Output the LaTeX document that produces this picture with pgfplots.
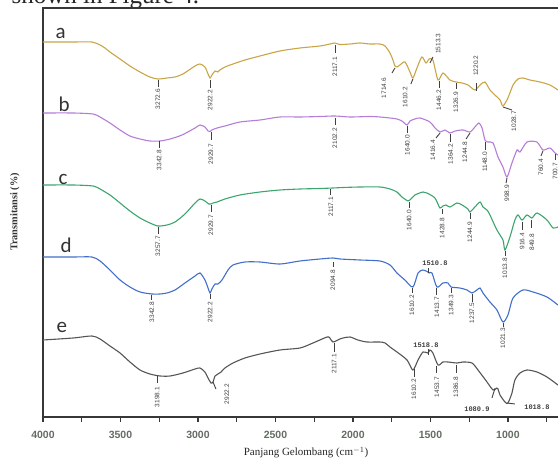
\documentclass[border=0pt]{standalone}
\usepackage{fontspec}
\setmainfont{Liberation Serif}
\newfontfamily\carl{Carlito}
\newfontfamily\lsans{Liberation Sans}
\newfontfamily\lmono{Liberation Mono}
\usepackage{pgfplots}
\pgfplotsset{compat=1.18}
\definecolor{ca}{RGB}{200,165,70}
\definecolor{cb}{RGB}{180,125,215}
\definecolor{cc}{RGB}{60,165,110}
\definecolor{cd}{RGB}{65,110,200}
\definecolor{ce}{RGB}{85,85,85}
\definecolor{frm}{RGB}{55,55,55}
\definecolor{tl}{RGB}{100,108,100}
\tikzset{tk/.style={draw=black!75, line width=0.9pt},
 lb/.style={font=\lsans\fontsize{6.5}{7}\selectfont, text=black!75, inner sep=0pt},
 hb/.style={font=\lmono\bfseries\fontsize{7}{8}\selectfont, text=black!75, inner sep=0pt},
 cv/.style={line width=1.1pt, smooth, tension=0.45}}
% vertical tick + text below
\newcommand{\vlab}[5]{\draw[tk] (axis cs:#1,#2) -- (axis cs:#1,#3); \node[lb,rotate=90,anchor=east] at (axis cs:#1,#4) {#5};}
% vertical tick + text above
\newcommand{\ulab}[5]{\draw[tk] (axis cs:#1,#2) -- (axis cs:#1,#3); \node[lb,rotate=90,anchor=west] at (axis cs:#1,#4) {#5};}
% slanted tick + text below
\newcommand{\slab}[7]{\draw[tk] (axis cs:#1,#2) -- (axis cs:#3,#4); \node[lb,rotate=90,anchor=east] at (axis cs:#5,#6) {#7};}
% slanted tick + text above
\newcommand{\sulab}[7]{\draw[tk] (axis cs:#1,#2) -- (axis cs:#3,#4); \node[lb,rotate=90,anchor=west] at (axis cs:#5,#6) {#7};}
\begin{document}
\begin{tikzpicture}
\node[anchor=base west, font=\fontsize{25}{27}\selectfont, text=black!85] at (8pt,-4pt) {shown in Figure 4.};
\begin{axis}[
 at={(301.5pt,-212.5pt)}, anchor=center,
 scale only axis, width=517pt, height=409pt,
 xmin=664, xmax=4000, x dir=reverse, ymin=0, ymax=409,
 axis line style={draw=frm, line width=1.6pt},
 xtick={1000,1500,2000,2500,3000,3500,4000},
 minor xtick={750,1250,1750,2250,2750,3250,3750},
 xtick pos=left, tick align=outside,
 major tick length=5pt, minor tick length=5pt,
 tick style={draw=frm, line width=1.2pt},
 ytick=\empty,
 /pgf/number format/1000 sep={},
 /pgf/number format/assume math mode=true,
 xticklabel style={font=\lsans\bfseries\fontsize{10.5}{12}\selectfont, text=tl, yshift=-6pt},
 clip=false,
]
% a
\addplot[cv, ca] coordinates {
(4000,375)(3806,375)(3684,375)(3632,372)(3600,369)(3568,365)(3503,358)(3439,351)(3374,345)(3310,340)(3258,338)(3200,339)(3148,340)(3097,343)(3019,351)(2987,353)(2955,350)(2935,343)(2922,339)(2910,342)(2890,346)(2871,345)(2858,347)(2826,350)(2774,353)(2697,357)(2600,361)(2471,366)(2342,369)(2213,371)(2148,373)(2116,374)(2084,372.5)(2019,373)(1955,374)(1890,373)(1826,373)(1793,371)(1761,364)(1742,357)(1729,351)(1716,350)(1697,352)(1664,355)(1632,345)(1613,339)(1587,349)(1555,360)(1529,354)(1509,358)(1484,357)(1451,337)(1419,344)(1374,337)(1335,335)(1296,334)(1258,332)(1213,327)(1180,332)(1148,335)(1116,327)(1084,322)(1051,317)(1032,311)(1000,319)(967,332)(935,338)(903,339)(858,337)(793,335)(729,332)(677,327)(664,326)};
% b
\addplot[cv, cb] coordinates {
(4000,304)(3806,304)(3677,303)(3632,300)(3568,294)(3503,287)(3439,281)(3374,278)(3310,276)(3245,276)(3180,278)(3103,282)(3019,289)(2987,292)(2955,290)(2935,286)(2922,285.5)(2910,287)(2877,289)(2826,291)(2729,295)(2600,297)(2471,300)(2342,300)(2213,300.5)(2116,301)(2019,300)(1890,300.5)(1826,300)(1761,299)(1716,298)(1684,296)(1651,292)(1632,296)(1600,298)(1567,299)(1503,295)(1470,289)(1438,285)(1406,287)(1374,284)(1341,286)(1290,287)(1245,285)(1213,290)(1187,294)(1167,289)(1148,277)(1129,275)(1096,274)(1064,260)(1032,250)(1006,240)(974,254)(941,267)(922,265)(877,275)(813,275)(774,267)(729,269)(696,264)(677,262)(664,261)};
% c
\addplot[cv, cc] coordinates {
(4000,232)(3806,232)(3677,231)(3632,228)(3568,222)(3503,214)(3439,206)(3374,199)(3310,194)(3258,191)(3200,192)(3148,195)(3084,203)(3019,214)(2987,218)(2955,216)(2930,213)(2916,213)(2903,214)(2877,215)(2826,218)(2729,222)(2600,225)(2471,227)(2342,228)(2213,228.5)(2129,229)(2064,229.5)(1955,230)(1826,230)(1761,228)(1716,225)(1684,220)(1645,216)(1632,217)(1600,222)(1548,225)(1523,224)(1471,219)(1439,209)(1420,211)(1400,212)(1374,210)(1329,214)(1296,212)(1258,208)(1245,205)(1213,210)(1180,215)(1161,210)(1135,207)(1116,202)(1071,187)(1032,177)(1019,167)(987,180)(955,197)(935,202)(909,197)(877,202)(845,199)(812,204)(748,197)(709,189)(677,190)(664,190)};
% d
\addplot[cv, cd] coordinates {
(4000,160)(3806,160)(3684,160)(3632,156)(3568,147)(3503,137)(3439,130)(3374,125)(3297,123)(3245,123)(3200,124)(3148,127)(3084,134)(3019,141)(2987,144)(2955,137)(2935,129)(2922,124)(2910,128)(2890,133)(2871,133)(2845,137)(2806,147)(2774,152)(2697,155)(2600,155)(2471,153)(2342,156)(2213,158)(2129,159)(2084,158)(1955,157)(1826,156)(1761,152)(1716,144)(1665,137)(1613,130)(1580,144)(1548,147)(1516,145)(1509,144)(1490,144)(1458,130)(1419,134)(1387,134)(1367,130)(1310,129)(1264,127)(1232,124)(1200,127)(1180,129)(1161,124)(1116,115)(1071,107)(1032,95)(1000,102)(967,119)(903,127)(838,125)(748,120)(677,112)(664,111)};
% e
\addplot[cv, ce] coordinates {
(4000,77)(3806,79)(3684,81)(3632,78)(3568,71)(3503,64)(3439,55)(3374,47)(3310,43)(3245,41)(3180,41)(3097,44)(3019,48)(2987,49)(2955,45)(2935,39)(2916,34)(2903,35)(2890,41)(2871,43)(2851,45)(2826,49)(2774,54)(2697,59)(2600,63)(2471,67)(2342,69)(2258,74)(2167,80)(2149,79)(2129,75)(2084,78)(2064,79)(2019,80)(1968,77)(1910,75)(1826,75)(1793,74)(1761,70)(1716,65)(1651,57)(1613,47)(1580,57)(1548,65)(1516,64)(1503,67)(1484,64)(1451,52)(1419,55)(1387,55)(1329,54)(1290,55)(1232,54)(1193,47)(1135,35)(1096,27)(1071,29)(1064,28)(1051,22)(1019,15)(1000,14)(974,24)(955,37)(922,44)(877,47)(813,45)(748,40)(677,32)(664,31)};
% annotations a
\vlab{3258}{337}{330}{328}{3272.6}
\vlab{2922}{337}{329}{327}{2922.2}
\vlab{2116}{372}{364}{360}{2117.1}
\slab{1729}{349}{1748}{344}{1800}{339}{1714.6}
\slab{1613}{338}{1626}{333}{1664}{330}{1610.2}
\sulab{1503}{354}{1484}{360}{1451}{363}{1513.3}
\vlab{1445}{336}{329}{327}{1446.2}
\vlab{1335}{334}{328}{325}{1326.9}
\ulab{1206}{326}{334}{341}{1220.2}
\slab{1032}{310}{974}{307}{962}{306}{1028.7}
% b
\vlab{3250}{276}{269}{267}{3342.8}
\vlab{2916}{285}{277}{273}{2929.7}
\vlab{2116}{299}{292}{289}{2102.2}
\vlab{1648}{291}{284}{282}{1640.0}
\slab{1438}{284}{1464}{279}{1484}{277}{1416.4}
\vlab{1370}{283}{275}{273}{1364.2}
\slab{1245}{284}{1270}{278}{1277}{275}{1244.8}
\vlab{1148}{275}{267}{265}{1148.0}
\slab{1006}{239}{1012}{234}{1006}{232}{998.9}
\slab{774}{266}{787}{261}{787}{258}{760.4}
\vlab{696}{263}{257}{254}{700.7}
% c
\vlab{3258}{190}{183}{181}{3257.7}
\vlab{2916}{212}{205}{202}{2929.7}
\vlab{2142}{228}{222}{220}{2117.1}
\vlab{1638}{215}{209}{207}{1640.0}
\vlab{1425}{208}{203}{199}{1428.8}
\vlab{1245}{204}{198}{195}{1244.9}
\vlab{1019}{166}{161}{159}{1013.8}
\vlab{909}{195}{187}{184}{916.4}
\vlab{845}{197}{189}{183}{849.8}
% d
\vlab{3297}{122}{117}{115}{3342.8}
\vlab{2922}{123}{118}{115}{2922.2}
\vlab{2129}{155}{150}{147}{2094.8}
\vlab{1619}{129}{124}{122}{1610.2}
\draw[tk] (axis cs:1516,144) -- (axis cs:1516,149);
\node[hb] at (axis cs:1471,154) {1510.8};
\vlab{1458}{129}{122}{120}{1413.7}
\vlab{1367}{129}{124}{122}{1349.3}
\vlab{1232}{123}{115}{114}{1237.5}
\vlab{1032}{94}{90}{89}{1021.3}
% e
\vlab{3264}{41}{34}{30}{3198.1}
\slab{2903}{35}{2884}{28}{2813}{33}{2922.2}
\vlab{2122}{74}{65}{63}{2117.1}
\vlab{1606}{48}{40}{38}{1610.2}
\draw[tk] (axis cs:1516,62) -- (axis cs:1516,68);
\node[hb] at (axis cs:1529,72) {1518.8};
\vlab{1458}{51}{44}{40}{1453.7}
\vlab{1335}{52}{44}{40}{1386.8}
\draw[tk] (axis cs:1083,29) -- (axis cs:1103,19);
\node[hb] at (axis cs:1200,8) {1080.9};
\draw[tk] (axis cs:1006,14) -- (axis cs:955,13);
\node[hb] at (axis cs:813,10) {1018.8};
\end{axis}
\node[anchor=base west, font=\carl\fontsize{21}{22}\selectfont, text=black!80] at (52pt,-39pt) {a};
\node[anchor=base west, font=\carl\fontsize{21}{22}\selectfont, text=black!80] at (55pt,-112pt) {b};
\node[anchor=base west, font=\carl\fontsize{21}{22}\selectfont, text=black!80] at (55pt,-185pt) {c};
\node[anchor=base west, font=\carl\fontsize{21}{22}\selectfont, text=black!80] at (57pt,-253pt) {d};
\node[anchor=base west, font=\carl\fontsize{21}{22}\selectfont, text=black!80] at (53pt,-333pt) {e};
\node[rotate=90, font=\bfseries\fontsize{10.3}{12}\selectfont, text=black!80] at (15pt,-212pt) {Transmitansi (\%)};
\node[anchor=base, font=\fontsize{11}{12}\selectfont, text=black!85] at (306pt,-456pt) {Panjang Gelombang (cm$^{-1}$)};
\pgfresetboundingbox
\useasboundingbox (0,0) rectangle (558pt,-462pt);
\end{tikzpicture}
\end{document}
